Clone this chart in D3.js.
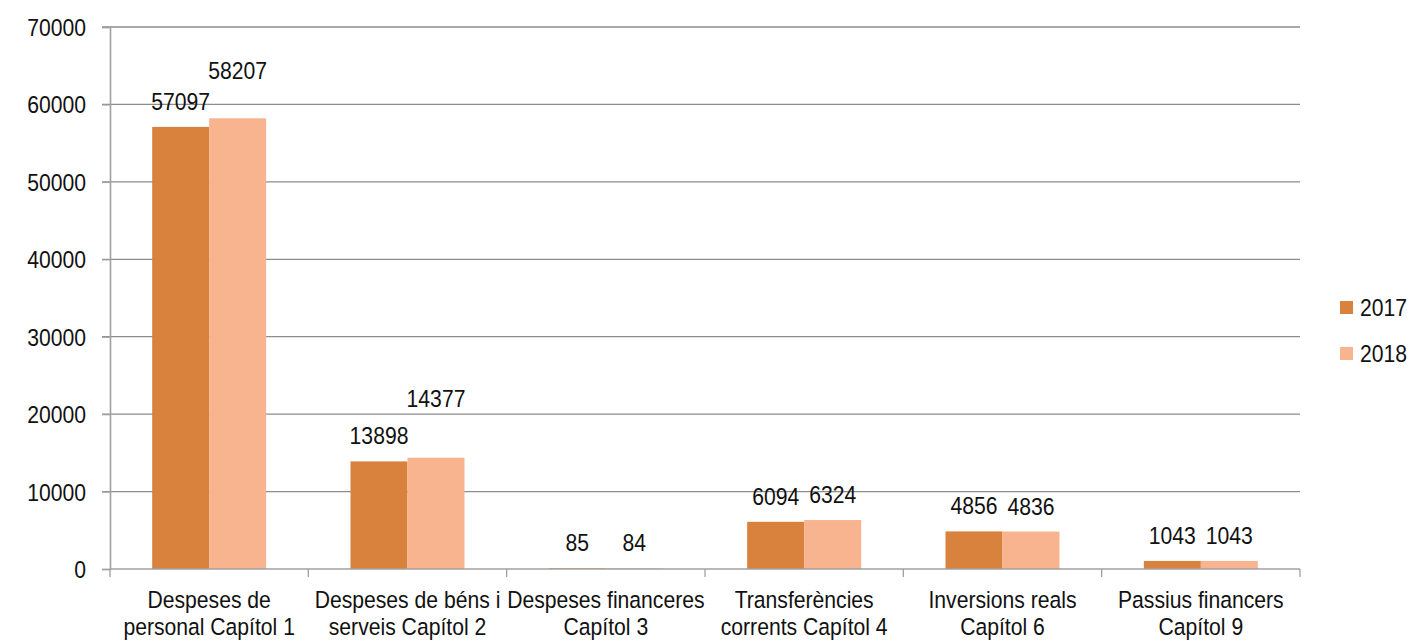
<!DOCTYPE html>
<html>
<head>
<meta charset="utf-8">
<script src="https://cdn.jsdelivr.net/npm/d3@7"></script>
<style>
  html, body { margin: 0; padding: 0; background: #ffffff; }
  svg text { font-family: "Liberation Sans", Arial, sans-serif; fill: #111; }
</style>
</head>
<body>
<svg id="chart" width="1414" height="644"></svg>
<script>
const categories = [
  "Despeses de\npersonal Capítol 1",
  "Despeses de béns i\nserveis Capítol 2",
  "Despeses financeres\nCapítol 3",
  "Transferències\ncorrents Capítol 4",
  "Inversions reals\nCapítol 6",
  "Passius financers\nCapítol 9"
];
const seriesNames = ["2017", "2018"];
const values2017 = [57097, 13898, 85, 6094, 4856, 1043];
const values2018 = [58207, 14377, 84, 6324, 4836, 1043];
const yTicks = [0, 10000, 20000, 30000, 40000, 50000, 60000, 70000];
const colors = ["#D9823E", "#F8B48E"];
// extra upward shift (px) of the manually moved data labels
const labelShift2017 = [0, 0, 0, 0, 0, 0];
const labelShift2018 = [22, 34, 0, 0, 0, 0];

const svg = d3.select("#chart");
const mLeft = 110, mRight = 1300, mTop = 27, mBottom = 569;
const fontSize = 23.5;
const squeeze = 0.9; // condensed look

function at(px, py) { return `translate(${px},${py}) scale(${squeeze},1)`; }

const x = d3.scaleBand().domain(categories).range([mLeft, mRight]).paddingInner(0).paddingOuter(0);
const xs = d3.scaleBand().domain(seriesNames).range([0, x.bandwidth()]).paddingInner(0).paddingOuter(0.74);
const y = d3.scaleLinear().domain([0, 70000]).range([mBottom, mTop]);

// gridlines
svg.append("g").selectAll("line").data(yTicks.filter(t => t > 0)).join("line")
  .attr("x1", mLeft - 8).attr("x2", mRight)
  .attr("y1", d => y(d)).attr("y2", d => y(d))
  .attr("stroke", "#8c8c8c").attr("stroke-width", 1.3);

// y axis
const yAxis = svg.append("g").attr("transform", `translate(${mLeft},0)`)
  .call(d3.axisLeft(y).tickValues(yTicks).tickSize(8).tickFormat(d3.format("d")));
yAxis.attr("font-family", null).attr("font-size", null);
yAxis.select(".domain").attr("stroke", "#a0a0a0").attr("stroke-width", 1.6);
yAxis.selectAll(".tick line").attr("stroke", "#a0a0a0").attr("stroke-width", 1.3);
yAxis.selectAll(".tick text")
  .attr("x", null).attr("dy", null)
  .attr("transform", at(-24, 8.5))
  .attr("font-size", fontSize).attr("fill", "#111");

// bars
const data = categories.map((c, i) => ({ c, vals: [values2017[i], values2018[i]], shifts: [labelShift2017[i], labelShift2018[i]] }));
const groups = svg.append("g").selectAll("g").data(data).join("g")
  .attr("transform", d => `translate(${x(d.c)},0)`);
groups.selectAll("rect").data(d => d.vals.map((v, k) => ({ v, k }))).join("rect")
  .attr("x", d => xs(seriesNames[d.k]))
  .attr("width", xs.bandwidth())
  .attr("y", d => y(d.v))
  .attr("height", d => y(0) - y(d.v))
  .attr("fill", d => colors[d.k]);

// x axis
const xAxis = svg.append("g").attr("transform", `translate(0,${mBottom})`);
xAxis.append("line").attr("x1", mLeft).attr("x2", mRight).attr("y1", 0).attr("y2", 0)
  .attr("stroke", "#a0a0a0").attr("stroke-width", 1.6);
const bounds = categories.map(c => x(c)).concat([x(categories[categories.length - 1]) + x.bandwidth()]);
xAxis.selectAll("line.tk").data(bounds).join("line").attr("class", "tk")
  .attr("x1", d => d).attr("x2", d => d).attr("y1", 0).attr("y2", 8)
  .attr("stroke", "#a0a0a0").attr("stroke-width", 1.3);
xAxis.selectAll("text").data(categories).join("text")
  .attr("text-anchor", "middle").attr("font-size", fontSize)
  .attr("transform", d => at(x(d) + x.bandwidth() / 2, 39))
  .each(function(d) {
    const lines = d.split("\n");
    d3.select(this).selectAll("tspan").data(lines).join("tspan")
      .attr("x", 0)
      .attr("y", (l, i) => i * 27)
      .text(l => l);
  });

// data labels
groups.selectAll("text").data(d => d.vals.map((v, k) => ({ v, k, s: d.shifts[k] }))).join("text")
  .attr("text-anchor", "middle").attr("font-size", fontSize)
  .attr("transform", d => at(xs(seriesNames[d.k]) + xs.bandwidth() / 2, y(d.v) - 17 - d.s))
  .text(d => d.v);

// legend
const legend = svg.append("g").attr("transform", "translate(1340,301)");
const li = legend.selectAll("g").data(seriesNames).join("g")
  .attr("transform", (d, i) => `translate(0,${i * 46})`);
li.append("rect").attr("width", 13).attr("height", 13).attr("fill", (d, i) => colors[i]);
li.append("text").attr("transform", at(20, 15)).attr("font-size", fontSize).text(d => d);
</script>
</body>
</html>
